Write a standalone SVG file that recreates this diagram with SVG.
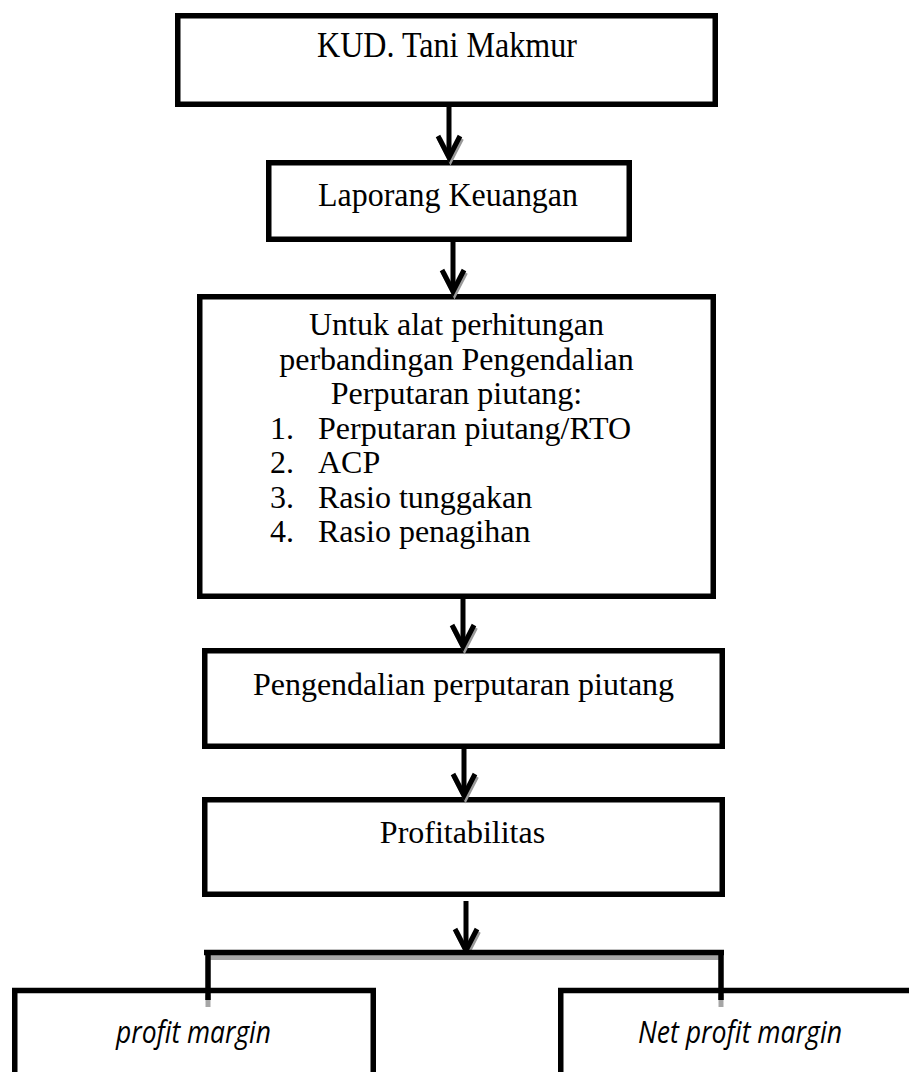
<svg xmlns="http://www.w3.org/2000/svg" width="909" height="1072" viewBox="0 0 909 1072">
  <style>
    .box { fill: #ffffff; stroke: #000000; stroke-width: 5.5; }
    .serif { font-family: "Liberation Serif", "Times New Roman", serif; fill: #000000; }
    .title { font-size: 33px; text-anchor: middle; }
    .body { font-size: 32px; }
    .mid { text-anchor: middle; }
    .ital { font-family: "Open Sans", "Noto Sans", sans-serif; font-style: italic; font-size: 27px; fill: #000000; text-anchor: middle; }
    .shaft { stroke: #000000; stroke-width: 5; fill: none; }
    .head { stroke: #000000; stroke-width: 5; fill: none; stroke-linejoin: miter; stroke-linecap: butt; }
    .headShade { stroke: #9a9a9a; stroke-width: 5; fill: none; }
    .bar { stroke: #000000; stroke-width: 5.5; fill: none; }
    .barShade { stroke: #a6a6a6; stroke-width: 5; fill: none; }
  </style>

  <!-- top box -->
  <g id="kud">
    <rect class="box" x="177.75" y="15.75" width="537.5" height="88.5"/>
    <text class="serif title" transform="translate(447,57) scale(1,1.1)" textLength="260" lengthAdjust="spacingAndGlyphs">KUD. Tani Makmur</text>
  </g>

  <g id="laporan">
    <rect class="box" x="268.75" y="162.75" width="360.5" height="76.5"/>
    <text class="serif title" transform="translate(448,206) scale(1,1.05)" textLength="260" lengthAdjust="spacingAndGlyphs">Laporang Keuangan</text>
  </g>

  <g id="alat">
    <rect class="box" x="199.75" y="296.75" width="513.5" height="299.5"/>
    <text class="serif body mid" x="456.5" y="335">Untuk alat perhitungan</text>
    <text class="serif body mid" x="456.5" y="369.5">perbandingan Pengendalian</text>
    <text class="serif body mid" x="456.5" y="404">Perputaran piutang:</text>
    <text class="serif body" x="270" y="438.5">1.</text>
    <text class="serif body" x="318" y="438.5">Perputaran piutang/RTO</text>
    <text class="serif body" x="270" y="473">2.</text>
    <text class="serif body" x="318" y="473">ACP</text>
    <text class="serif body" x="270" y="507.5">3.</text>
    <text class="serif body" x="318" y="507.5">Rasio tunggakan</text>
    <text class="serif body" x="270" y="542">4.</text>
    <text class="serif body" x="318" y="542">Rasio penagihan</text>
  </g>

  <g id="pengendalian">
    <rect class="box" x="204.75" y="650.75" width="517.5" height="95.5"/>
    <text class="serif body mid" x="463.5" y="695">Pengendalian perputaran piutang</text>
  </g>

  <g id="profitabilitas">
    <rect class="box" x="204.75" y="799.75" width="517.5" height="94.5"/>
    <text class="serif body mid" x="462.5" y="843">Profitabilitas</text>
  </g>

  <g id="profit-margin">
    <rect class="box" x="14.75" y="990.5" width="358.5" height="140"/>
    <text class="ital" transform="translate(193.5,1043) scale(1,1.15)" textLength="155" lengthAdjust="spacingAndGlyphs">profit margin</text>
  </g>

  <g id="net-profit-margin">
    <rect class="box" x="560.75" y="990.5" width="400" height="140"/>
    <text class="ital" transform="translate(740,1043) scale(1,1.15)" textLength="204" lengthAdjust="spacingAndGlyphs">Net profit margin</text>
  </g>

  <!-- connectors -->
  <g id="connectors">
    <!-- arrow 1 -->
    <path class="headShade" d="M439.5,138.5 L450.5,160 L461.5,138.5"/>
    <line class="shaft" x1="449" y1="107" x2="449" y2="155"/>
    <path class="head" d="M438,136 L449,157.5 L460,136"/>
    <!-- arrow 2 -->
    <path class="headShade" d="M443.5,272.5 L454.5,294 L465.5,272.5"/>
    <line class="shaft" x1="453" y1="242" x2="453" y2="289"/>
    <path class="head" d="M442,270 L453,291.5 L464,270"/>
    <!-- arrow 3 -->
    <path class="headShade" d="M453.5,627.5 L464.5,649 L475.5,627.5"/>
    <line class="shaft" x1="463" y1="599" x2="463" y2="644"/>
    <path class="head" d="M452,625 L463,646.5 L474,625"/>
    <!-- arrow 4 -->
    <path class="headShade" d="M454.5,776.5 L465.5,798 L476.5,776.5"/>
    <line class="shaft" x1="464" y1="749" x2="464" y2="793"/>
    <path class="head" d="M453,774 L464,795.5 L475,774"/>
    <!-- arrow 5 into the branch bar -->
    <path class="headShade" d="M456.5,931.5 L467.5,953 L478.5,931.5"/>
    <line class="shaft" x1="466" y1="901" x2="466" y2="946"/>
    <path class="head" d="M455,929 L466,950.5 L477,929"/>
    <!-- branch bar and drops -->
    <line class="barShade" x1="207" y1="957.5" x2="721" y2="957.5"/>
    <line class="barShade" x1="208" y1="995" x2="208" y2="1007"/>
    <line class="barShade" x1="721" y1="995" x2="721" y2="1007"/>
    <line class="bar" x1="204" y1="952.5" x2="724" y2="952.5"/>
    <line class="bar" x1="208" y1="952" x2="208" y2="1000"/>
    <line class="bar" x1="721" y1="952" x2="721" y2="1000"/>
  </g>
</svg>
